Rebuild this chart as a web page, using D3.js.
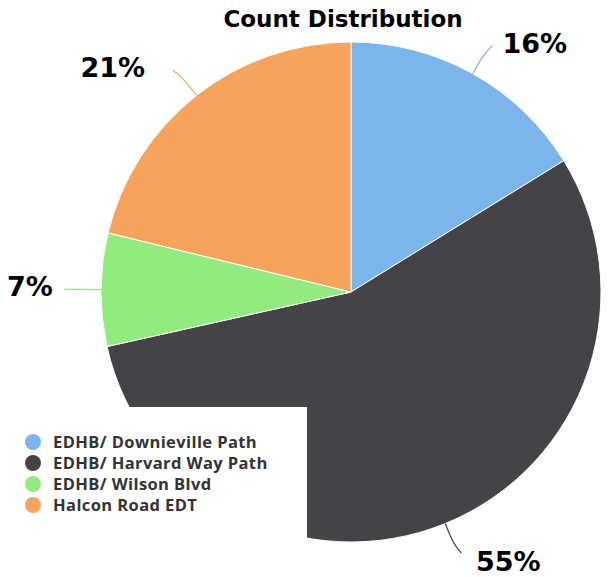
<!DOCTYPE html>
<html>
<head>
<meta charset="utf-8">
<script src="https://cdn.jsdelivr.net/npm/d3@7"></script>
<style>
  body { margin: 0; background: #fff; }
  svg { display: block; }
</style>
</head>
<body>
<div id="chart"></div>
<script>
// chart data
var categories = ["EDHB/ Downieville Path", "EDHB/ Harvard Way Path", "EDHB/ Wilson Blvd", "Halcon Road EDT"];
var values = [16.2, 55.3, 7.3, 21.2];
var colors = ["#7cb5ec", "#434348", "#90ed7d", "#f7a35c"];
var title = "Count Distribution";

var width = 608, height = 577;
var cx = 351, cy = 292, radius = 250;

var svg = d3.select("#chart").append("svg")
	.attr("width", width)
	.attr("height", height);

svg.append("text")
	.attr("x", 343)
	.attr("y", 27)
	.attr("text-anchor", "middle")
	.attr("font-family", "DejaVu Sans, Verdana, sans-serif")
	.attr("font-weight", "bold")
	.attr("font-size", 23)
	.attr("fill", "#000")
	.text(title);

var total = d3.sum(values);
var pie = d3.pie().sort(null).value(d => d);
var arcs = pie(values);

var arc = d3.arc().innerRadius(0).outerRadius(radius);

var g = svg.append("g").attr("transform", "translate(" + cx + "," + cy + ")");

g.selectAll("path.slice")
	.data(arcs)
	.enter().append("path")
	.attr("class", "slice")
	.attr("d", arc)
	.attr("fill", (d, i) => colors[i])
	.attr("stroke", "#fff")
	.attr("stroke-width", 1)
	.attr("stroke-linejoin", "round");

// polar helper, angle measured clockwise from top
function polar(a, r) {
	return [r * Math.sin(a), -r * Math.cos(a)];
}

var line = d3.line().curve(d3.curveBasis);

arcs.forEach((d, i) => {
	var mid = (d.startAngle + d.endAngle) / 2;
	var side = Math.sin(mid) >= 0 ? 1 : -1;
	var p0 = polar(mid, radius);
	var p1 = polar(mid, radius + 22);
	var p2 = polar(mid, radius + 32);
	p2[0] += side * 4;

	g.append("path")
		.attr("d", line([p0, p1, p2]))
		.attr("fill", "none")
		.attr("stroke", colors[i])
		.attr("stroke-width", 1.2);

	var down = Math.max(0, -Math.cos(mid));
	var up = Math.max(0, Math.cos(mid));
	var gap = side > 0 ? 10 + 5 * down : 12 + 20 * up;
	var dy = 7 + 12 * down;
	g.append("text")
		.attr("x", p2[0] + side * gap)
		.attr("y", p2[1] + dy)
		.attr("text-anchor", side > 0 ? "start" : "end")
		.attr("font-family", "DejaVu Sans, Verdana, sans-serif")
		.attr("font-weight", "bold")
		.attr("font-size", 27)
		.attr("fill", "#000")
		.text(Math.round(d.value / total * 100) + "%");
});

// legend panel sits over the lower left of the pie
var legend = svg.append("g");
legend.append("rect")
	.attr("x", 0)
	.attr("y", 407)
	.attr("width", 307)
	.attr("height", height - 407)
	.attr("fill", "#fff");

var ly = d3.scalePoint().domain(categories).range([442, 505]);

var items = legend.selectAll("g.item")
	.data(categories)
	.enter().append("g")
	.attr("class", "item")
	.attr("transform", d => "translate(0," + ly(d) + ")");

items.append("circle")
	.attr("cx", 33)
	.attr("cy", 0)
	.attr("r", 8)
	.attr("fill", (d, i) => colors[i]);

items.append("text")
	.attr("x", 53)
	.attr("y", 6)
	.attr("font-family", "Open Sans, sans-serif")
	.attr("font-weight", "bold")
	.attr("font-size", 16.5)
	.attr("letter-spacing", 0.4)
	.attr("fill", "#333")
	.text(d => d);
</script>
</body>
</html>
